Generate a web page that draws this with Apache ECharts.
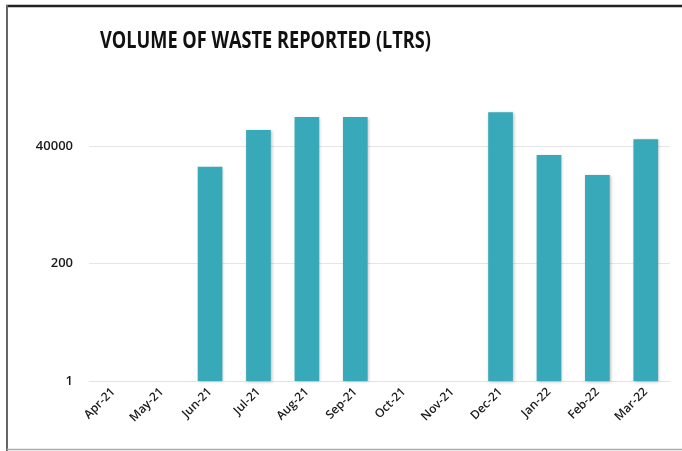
<!DOCTYPE html>
<html><head><meta charset="utf-8">
<script src="https://cdn.jsdelivr.net/npm/echarts@6/dist/echarts.min.js"></script>
<style>html,body{margin:0;padding:0;background:#fff}#c{width:682px;height:451px}</style>
</head><body><div id="c"></div>
<script>
var categories = ['Apr-21','May-21','Jun-21','Jul-21','Aug-21','Sep-21','Oct-21','Nov-21','Dec-21','Jan-22','Feb-22','Mar-22'];
var volumes = [null, null, 15700, 82000, 148000, 148000, null, null, 183000, 26600, 10800, 54000];
var tickValues = [1, 200, 40000];
var titleText = 'VOLUME OF WASTE REPORTED (LTRS)';

var chart = echarts.init(document.getElementById('c'));
chart.setOption({
  animation: false,
  graphic: [
    {type: 'line', shape: {x1: 6, y1: 6, x2: 682, y2: 6}, style: {stroke: '#222', lineWidth: 2.5}},
    {type: 'line', shape: {x1: 7, y1: 5, x2: 7, y2: 451}, style: {stroke: '#666', lineWidth: 2}},
    {type: 'line', shape: {x1: 7, y1: 449.5, x2: 682, y2: 449.5}, style: {stroke: '#aaa', lineWidth: 1.5}},
    {type: 'text', x: 100, y: 30, scaleX: 0.79, style: {
      text: titleText, fontFamily: 'Open Sans', fontWeight: 'bold', fontSize: 23, fill: '#111'
    }}
  ],
  grid: {left: 89, right: 12, top: 87.25, bottom: 70, containLabel: false},
  xAxis: {
    type: 'category', data: categories,
    axisTick: {show: false},
    axisLine: {lineStyle: {color: '#e3e3e3', width: 1}},
    axisLabel: {rotate: 45, interval: 0, fontFamily: 'Open Sans', fontWeight: 600, fontSize: 12, color: '#1a1a1a', margin: 9}
  },
  yAxis: {
    type: 'log', logBase: 200, min: 1, max: 565685,
    axisLine: {show: false}, axisTick: {show: false},
    splitLine: {show: true, showMaxLine: false, lineStyle: {color: '#e6e6e6', width: 1}},
    axisLabel: {
      showMaxLabel: false, fontFamily: 'Open Sans', fontWeight: 600, fontSize: 13, color: '#1a1a1a', margin: 16,
      formatter: function (v) { return tickValues.indexOf(Math.round(v)) >= 0 ? String(Math.round(v)) : ''; }
    }
  },
  series: [{
    type: 'bar', data: volumes, barWidth: '51%',
    itemStyle: {color: '#38a9b9', shadowColor: 'rgba(0,0,0,0.25)', shadowBlur: 3, shadowOffsetX: 1, shadowOffsetY: 1}
  }]
});
</script></body></html>
